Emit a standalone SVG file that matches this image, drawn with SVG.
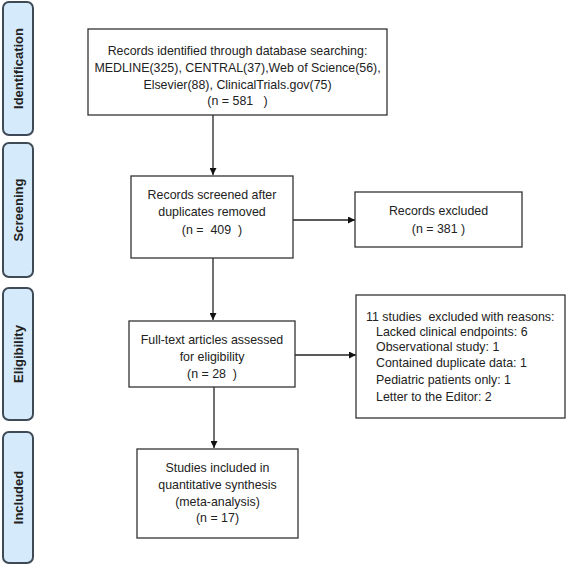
<svg xmlns="http://www.w3.org/2000/svg" width="567" height="566" viewBox="0 0 567 566">
<style>
.side{fill:#d5eafb;stroke:#3e4b57;stroke-width:2}
.box{fill:#fff;stroke:#333;stroke-width:1.3}
.lbl{font-family:"Liberation Sans",Arial,sans-serif;font-size:13px;font-weight:bold;fill:#222;text-anchor:middle}
.t{font-family:"Liberation Sans",Arial,sans-serif;font-size:12.4px;fill:#222;text-anchor:middle}
.tl{font-family:"Liberation Sans",Arial,sans-serif;font-size:12.4px;fill:#222}
.c{stroke:#222;stroke-width:1.3;fill:none;marker-end:url(#ah)}
</style>
<defs>
<marker id="ah" viewBox="0 0 10 10" refX="10" refY="5" markerWidth="7" markerHeight="7" markerUnits="userSpaceOnUse" orient="auto">
<path d="M0,0 L10,5 L0,10 z" fill="#111"/>
</marker>
</defs>
<rect width="567" height="566" fill="#fff"/>
<g id="stage-identification">
<rect class="side" x="3" y="2" width="30" height="133" rx="6"/>
<text class="lbl" transform="translate(22.5,68.5) rotate(-90)">Identification</text>
</g>
<g id="stage-screening">
<rect class="side" x="3" y="143" width="30" height="134" rx="6"/>
<text class="lbl" transform="translate(22.5,210) rotate(-90)">Screening</text>
</g>
<g id="stage-eligibility">
<rect class="side" x="3" y="288" width="30" height="132" rx="6"/>
<text class="lbl" transform="translate(22.5,354) rotate(-90)">Eligibility</text>
</g>
<g id="stage-included">
<rect class="side" x="3" y="432" width="30" height="131" rx="6"/>
<text class="lbl" transform="translate(22.5,497.5) rotate(-90)">Included</text>
</g>
<g id="connectors">
<line class="c" x1="213" y1="115" x2="213" y2="175"/>
<line class="c" x1="213" y1="258" x2="213" y2="320"/>
<line class="c" x1="214" y1="387" x2="214" y2="448"/>
<line class="c" x1="293" y1="220" x2="355" y2="220"/>
<line class="c" x1="295" y1="355" x2="356" y2="355"/>
</g>
<g id="node-identified">
<rect class="box" x="88" y="29" width="299" height="86"/>
<text class="t" x="237.5" y="54.5">Records identified through database searching:</text>
<text class="t" x="237.5" y="71.5">MEDLINE(325),  CENTRAL(37),Web of Science(56),</text>
<text class="t" x="237.5" y="88.5">Elsevier(88), ClinicalTrials.gov(75)</text>
<text class="t" x="237.5" y="105" xml:space="preserve">(n = 581   )</text>
</g>
<g id="node-screened">
<rect class="box" x="131" y="176" width="162" height="82"/>
<text class="t" x="212" y="198.5">Records screened after</text>
<text class="t" x="212" y="215.5">duplicates removed</text>
<text class="t" x="212" y="234" xml:space="preserve">(n =  409  )</text>
</g>
<g id="node-excluded">
<rect class="box" x="355" y="192" width="167" height="55"/>
<text class="t" x="438.5" y="214.5">Records excluded</text>
<text class="t" x="438.5" y="232.5">(n = 381 )</text>
</g>
<g id="node-fulltext">
<rect class="box" x="129" y="321" width="166" height="66"/>
<text class="t" x="212" y="343.5">Full-text articles assessed</text>
<text class="t" x="212" y="360.5">for eligibility</text>
<text class="t" x="212" y="377.5" xml:space="preserve">(n = 28  )</text>
</g>
<g id="node-reasons">
<rect class="box" x="356" y="295" width="209" height="123"/>
<text class="tl" x="366" y="320.5" xml:space="preserve">11 studies  excluded with reasons:</text>
<text class="tl" x="376" y="336">Lacked clinical endpoints: 6</text>
<text class="tl" x="376" y="351">Observational study: 1</text>
<text class="tl" x="376" y="366.5">Contained duplicate data: 1</text>
<text class="tl" x="376" y="383.5">Pediatric patients only: 1</text>
<text class="tl" x="376" y="400.5">Letter to the Editor: 2</text>
</g>
<g id="node-included">
<rect class="box" x="137" y="449" width="161" height="89"/>
<text class="t" x="217.5" y="471.5">Studies included in</text>
<text class="t" x="217.5" y="488.5">quantitative synthesis</text>
<text class="t" x="217.5" y="505.5">(meta-analysis)</text>
<text class="t" x="217.5" y="521.5">(n = 17)</text>
</g>
</svg>
